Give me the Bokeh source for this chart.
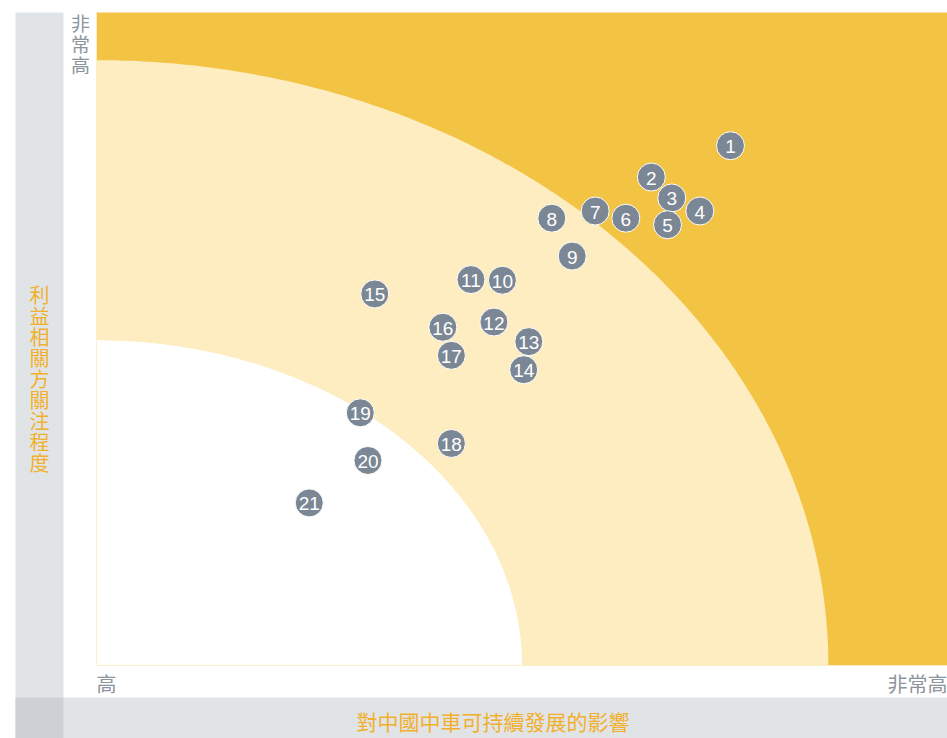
import numpy as np
from bokeh.plotting import figure
from bokeh.models import Range1d, ColumnDataSource
from bokeh.core.properties import value
from bokeh.embed import file_html
from bokeh.resources import INLINE

# ---- data ----
labels = [str(i) for i in range(1, 22)]
impact = [7.45, 6.52, 6.76, 7.09, 6.71, 6.22, 5.86, 5.35, 5.59, 4.77, 4.40,
          4.67, 5.08, 5.02, 3.27, 4.07, 4.17, 4.17, 3.10, 3.19, 2.50]
concern = [7.96, 7.48, 7.16, 6.96, 6.75, 6.85, 6.96, 6.85, 6.27, 5.90, 5.91,
           5.26, 4.96, 4.53, 5.69, 5.18, 4.75, 3.40, 3.87, 3.14, 2.49]
x_title = "對中國中車可持續發展的影響"
y_title = "利益相關方關注程度"
low_label = "高"
high_label = "非常高"

# zone boundaries (quarter ellipses, data units)
outer_rx, outer_ry = 8.60, 9.27
inner_rx, inner_ry = 5.0, 4.98

# picture-pixel -> data helpers (layout only)
def X(px):
    return (px - 96) / 85.1

def Y(py):
    return (665 - py) / 65.3

W, H = 947, 738
p = figure(width=W, height=H, output_backend="svg", toolbar_location=None,
           x_range=Range1d(X(0), X(W)), y_range=Range1d(Y(H), Y(0)),
           x_axis_location=None, y_axis_location=None, min_border=0,
           background_fill_color="white", border_fill_color="white")
p.grid.visible = False
p.outline_line_color = None

ORANGE = "#F3C344"
LIGHT = "#FEEDC0"
GREY_BAND = "#E1E4E7"
GREY_DARK = "#CDD0D4"
TXT_GREY = "#8C949C"
TITLE_COL = "#F1B02C"
CJK = value("Noto Sans CJK TC")

x_end = X(W)
y_bot = Y(H)

# bands
p.quad(left=X(15), right=X(63), bottom=y_bot, top=Y(12), fill_color=GREY_BAND, line_color=None)
p.quad(left=X(63), right=x_end, bottom=y_bot, top=Y(697), fill_color=GREY_BAND, line_color=None)
p.quad(left=X(15), right=X(63), bottom=y_bot, top=Y(697), fill_color=GREY_DARK, line_color=None)

# plot zones
p.quad(left=0, right=10, bottom=0, top=10, fill_color=ORANGE, line_color=None)
t = np.linspace(0, np.pi / 2, 200)
ox = np.concatenate([[0], outer_rx * np.cos(t)])
oy = np.concatenate([[0], outer_ry * np.sin(t)])
p.patch(ox, oy, fill_color=LIGHT, line_color=None)
ix = np.concatenate([[0], inner_rx * np.cos(t)])
iy = np.concatenate([[0], inner_ry * np.sin(t)])
p.patch(ix, iy, fill_color="white", line_color=None)
p.segment(x0=[0, 0], y0=[0, 0], x1=[0, 10], y1=[10, 0], line_color="#FCEFC8", line_width=1)

# points
src = ColumnDataSource(dict(x=impact, y=concern, label=labels))
p.scatter("x", "y", source=src, size=28, fill_color="#7B8794", line_color="white", line_width=1)
p.text("x", "y", text="label", source=src, text_color="white", text_font=value("Liberation Sans"),
       text_font_size="19px", text_align="center", text_baseline="middle", y_offset=1)

# axis end labels
hl = list(high_label)
p.text(x=[X(80)] * len(hl), y=[Y(22 + 21 * i) for i in range(len(hl))], text=hl,
       text_color=TXT_GREY, text_font=CJK, text_font_size="19px",
       text_align="center", text_baseline="middle")
p.text(x=[0.0], y=[Y(683)], text=[low_label], text_color=TXT_GREY, text_font=CJK,
       text_font_size="20px", text_align="left", text_baseline="middle")
p.text(x=[x_end], y=[Y(683)], text=[high_label], text_color=TXT_GREY, text_font=CJK,
       text_font_size="20px", text_align="right", text_baseline="middle")

# titles
yt = list(y_title)
p.text(x=[X(39)] * len(yt), y=[Y(293.5 + 21.1 * i) for i in range(len(yt))], text=yt,
       text_color=TITLE_COL, text_font=CJK, text_font_size="20px",
       text_align="center", text_baseline="middle")
p.text(x=[X(492.5)], y=[Y(720)], text=[x_title], text_color=TITLE_COL, text_font=CJK,
       text_font_size="21px", text_align="center", text_baseline="middle")

open("out.html", "w").write(file_html(p, INLINE))
